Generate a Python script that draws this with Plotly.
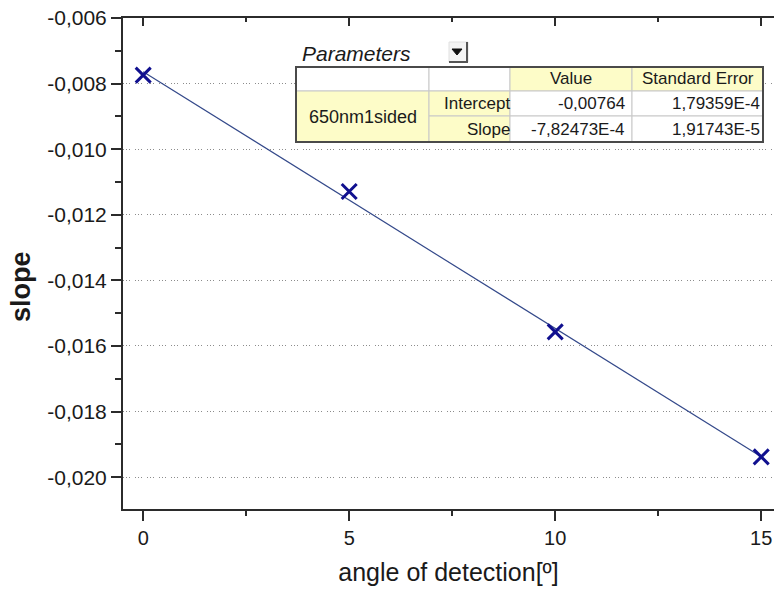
import plotly.graph_objects as go

# ---- data ----
angle = [0, 5, 10, 15]
slope_vals = [-0.00774, -0.01129, -0.01557, -0.01938]

fit_x = [0, 15]
fit_y = [-0.00764, -0.01938]

param_title = "Parameters"
dataset_name = "650nm1sided"
param_names = ["Intercept", "Slope"]
param_values = ["-0,00764", "-7,82473E-4"]
param_errors = ["1,79359E-4", "1,91743E-5"]
col_headers = ["Value", "Standard Error"]

x_ticks = [0, 5, 10, 15]
y_ticks = [-0.006, -0.008, -0.010, -0.012, -0.014, -0.016, -0.018, -0.020]
y_ticklabels = ["-0,006", "-0,008", "-0,010", "-0,012", "-0,014", "-0,016", "-0,018", "-0,020"]

# ---- figure geometry (pixels) ----
W, H = 774, 592
L, R, T, B = 123, 0, 18, 83
PW, PH = W - L - R, H - T - B

def px(x):
    return (x - L) / PW

def py(y):
    return (H - B - y) / PH

FONT = "Liberation Sans, Arial, sans-serif"
AX = "#2b2b2b"
TXT = "#1a1a1a"

fig = go.Figure()

fig.add_trace(go.Scatter(
    x=fit_x, y=fit_y, mode="lines",
    line=dict(color="#34498a", width=1.2),
    hoverinfo="skip", showlegend=False))

fig.add_trace(go.Scatter(
    x=angle, y=slope_vals, mode="markers",
    marker=dict(symbol="x-thin", size=15, line=dict(color="#10108f", width=3)),
    showlegend=False))

# invisible trace to anchor the top (mirror) axis
fig.add_trace(go.Scatter(
    x=angle, y=slope_vals, xaxis="x2", mode="markers",
    marker=dict(opacity=0), hoverinfo="skip", showlegend=False))

xr = [-0.49, 15.31]
fig.update_layout(
    width=W, height=H,
    margin=dict(l=L, r=R, t=T, b=B),
    paper_bgcolor="white", plot_bgcolor="white",
    separators=", ",
    font=dict(family=FONT, color=TXT),
    xaxis=dict(
        range=xr, tickvals=x_ticks, ticks="outside", ticklen=10, tickwidth=2,
        tickcolor=AX, showline=True, linecolor=AX, linewidth=2,
        showgrid=False, zeroline=False,
        tickfont=dict(size=20, family=FONT, color=TXT),
        minor=dict(dtick=2.5, tick0=0, ticks="outside", ticklen=5, tickwidth=1.5, tickcolor=AX, showgrid=False),
        title=dict(text="angle of detection[º]", font=dict(size=25, family=FONT, color=TXT), standoff=15),
    ),
    xaxis2=dict(
        range=xr, overlaying="x", side="top", anchor="y", tickvals=x_ticks,
        ticks="inside", ticklen=8, tickwidth=2, tickcolor=AX,
        showline=True, linecolor=AX, linewidth=2, showticklabels=False,
        showgrid=False, zeroline=False,
        minor=dict(dtick=2.5, tick0=0, ticks="inside", ticklen=4, tickwidth=1.5, tickcolor=AX, showgrid=False),
    ),
    yaxis=dict(
        range=[-0.02097, -0.006], tickvals=y_ticks, ticktext=y_ticklabels,
        ticks="outside", ticklen=10, tickwidth=2, tickcolor=AX,
        showline=True, linecolor=AX, linewidth=2, zeroline=False,
        showgrid=True, gridcolor="#8c8c8c", gridwidth=1.2,
        griddash="1px,2px,1px,2px,1px,5px",
        tickfont=dict(size=21, family=FONT, color=TXT),
        minor=dict(dtick=0.001, tick0=0, ticks="outside", ticklen=6, tickwidth=1.5, tickcolor=AX, showgrid=False),
    ),
)

# y-axis title (placed like the original, slightly below the plot centre)
fig.add_annotation(xref="paper", yref="paper", x=px(21), y=py(287), text="<b>slope</b>",
                   textangle=-90, showarrow=False, xanchor="center", yanchor="middle",
                   font=dict(size=27, family=FONT, color=TXT))

# ---- parameters table (drawn as shapes + annotations) ----
cols = [296, 429, 510, 632, 763]
rows = [67, 91, 116, 142]
YEL = "#fdfcc8"

def rect(x0, y0, x1, y1, fill, line_color="#c8c8c8", lw=1):
    fig.add_shape(type="rect", xref="paper", yref="paper",
                  x0=px(x0), x1=px(x1), y0=py(y1), y1=py(y0),
                  fillcolor=fill, line=dict(color=line_color, width=lw), layer="above")

rect(cols[0], rows[0], cols[4], rows[3], "white", "white", 0)
rect(cols[0], rows[0], cols[1], rows[1], "white")
rect(cols[1], rows[0], cols[2], rows[1], "white")
rect(cols[2], rows[0], cols[3], rows[1], YEL)
rect(cols[3], rows[0], cols[4], rows[1], YEL)
rect(cols[0], rows[1], cols[1], rows[3], YEL)
for i in range(2):
    rect(cols[1], rows[1 + i], cols[2], rows[2 + i], YEL)
    rect(cols[2], rows[1 + i], cols[3], rows[2 + i], "white")
    rect(cols[3], rows[1 + i], cols[4], rows[2 + i], "white")
fig.add_shape(type="rect", xref="paper", yref="paper",
              x0=px(cols[0]), x1=px(cols[4]), y0=py(rows[3]), y1=py(rows[0]),
              line=dict(color="#4a4a4a", width=2), layer="above")

def txt(x, y, s, anchor="center", size=17, italic=False):
    fig.add_annotation(xref="paper", yref="paper", x=px(x), y=py(y), text=s,
                       showarrow=False, xanchor=anchor, yanchor="middle",
                       font=dict(family=FONT, size=size, color=TXT,
                                 style="italic" if italic else "normal"))

ymid = [(rows[i] + rows[i + 1]) / 2 for i in range(3)]
txt((cols[2] + cols[3]) / 2, ymid[0], col_headers[0])
txt((cols[3] + cols[4]) / 2, ymid[0], col_headers[1])
txt((cols[0] + cols[1]) / 2, (rows[1] + rows[3]) / 2, dataset_name, size=18)
for i in range(2):
    txt(cols[2] + 2, ymid[i + 1], param_names[i], anchor="right")
    txt(cols[3] - 5, ymid[i + 1], param_values[i], anchor="right")
    txt(cols[4] - 1, ymid[i + 1], param_errors[i], anchor="right")

txt(300, 53, param_title, anchor="left", size=21, italic=True)

# dropdown button
fig.add_shape(type="rect", xref="paper", yref="paper",
              x0=px(449), x1=px(468), y0=py(62), y1=py(42),
              fillcolor="#f4f4f4", line=dict(color="#e0e0e0", width=1), layer="above")
fig.add_shape(type="line", xref="paper", yref="paper",
              x0=px(467), x1=px(467), y0=py(62), y1=py(42),
              line=dict(color="#555555", width=2), layer="above")
fig.add_shape(type="line", xref="paper", yref="paper",
              x0=px(449), x1=px(468), y0=py(62), y1=py(62),
              line=dict(color="#555555", width=2), layer="above")
fig.add_shape(type="path", xref="paper", yref="paper",
              path=f"M {px(452)},{py(49)} L {px(462)},{py(49)} L {px(457)},{py(55)} Z",
              fillcolor="#111111", line=dict(color="#111111", width=1), layer="above")

fig.write_html("out.html")
